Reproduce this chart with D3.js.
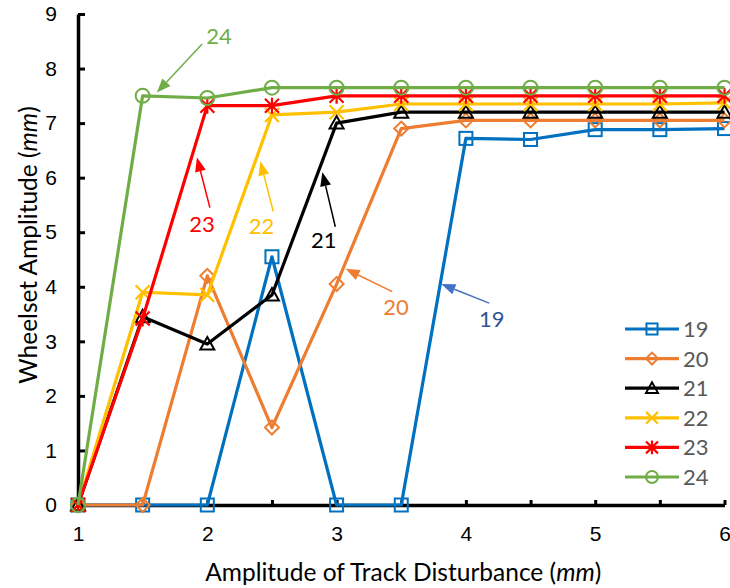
<!DOCTYPE html>
<html>
<head>
<meta charset="utf-8">
<script src="https://cdn.jsdelivr.net/npm/d3@7"></script>
<style>
  body { margin: 0; background: #fff; }
  svg { font-family: Lato, "Open Sans", sans-serif; }
  .axis path, .axis line { stroke: #000; }
  .axis text { fill: #000; font-size: 21px; }
</style>
</head>
<body>
<svg id="chart" width="730" height="588"></svg>
<script>
// DATA
const xValues = [1, 1.5, 2, 2.5, 3, 3.5, 4, 4.5, 5, 5.5, 6];
const s19 = [0, 0, 0, 4.55, 0, 0, 6.72, 6.70, 6.88, 6.88, 6.90];
const s20 = [0, 0, 4.2, 1.42, 4.05, 6.9, 7.05, 7.05, 7.05, 7.05, 7.05];
const s21 = [0, 3.45, 2.95, 3.85, 7.0, 7.2, 7.2, 7.2, 7.2, 7.2, 7.2];
const s22 = [0, 3.9, 3.85, 7.15, 7.2, 7.35, 7.35, 7.35, 7.35, 7.35, 7.37];
const s23 = [0, 3.42, 7.32, 7.32, 7.5, 7.5, 7.5, 7.5, 7.5, 7.5, 7.5];
const s24 = [0, 7.5, 7.46, 7.65, 7.65, 7.65, 7.65, 7.65, 7.65, 7.65, 7.65];
const seriesNames = ['19', '20', '21', '22', '23', '24'];
const xTicks = [1, 2, 3, 4, 5, 6];
const yTicks = [0, 1, 2, 3, 4, 5, 6, 7, 8, 9];

const series = [
    { name: '19', values: s19, color: '#0070C0', marker: 'square' },
    { name: '20', values: s20, color: '#ED7D31', marker: 'diamond' },
    { name: '21', values: s21, color: '#000000', marker: 'triangle' },
    { name: '22', values: s22, color: '#FFC000', marker: 'x' },
    { name: '23', values: s23, color: '#FF0000', marker: 'star' },
    { name: '24', values: s24, color: '#70AD47', marker: 'circle' }
];

// annotation labels: text pos, arrow tail and arrow head, all in data units
const notes = [
    { name: '24', color: '#70AD47', text: [2.09, 8.6], from: [1.96, 8.45], to: [1.61, 7.56] },
    { name: '23', color: '#FF0000', text: [1.96, 5.15], from: [2.02, 5.45], to: [1.92, 6.37] },
    { name: '22', color: '#FFC000', text: [2.42, 5.1], from: [2.51, 5.38], to: [2.41, 6.3] },
    { name: '21', color: '#000000', text: [2.9, 4.85], from: [2.99, 5.1], to: [2.89, 6.1] },
    { name: '20', color: '#ED7D31', text: [3.46, 3.63], from: [3.43, 3.91], to: [3.07, 4.33] },
    { name: '19', color: '#4472C4', textColor: '#2F5597', text: [4.2, 3.4], from: [4.18, 3.7], to: [3.81, 4.05] }
];

const svg = d3.select('#chart');
const margin = { top: 14, right: 5.5, bottom: 83, left: 78 };
const width = +svg.attr('width') - margin.left - margin.right;
const height = +svg.attr('height') - margin.top - margin.bottom;
const g = svg.append('g').attr('transform', `translate(${margin.left},${margin.top})`);

const x = d3.scaleLinear().domain([1, 6]).range([0, width]);
const y = d3.scaleLinear().domain([0, 9]).range([height, 0]);

// AXES
const yAxis = g.append('g').attr('class', 'axis')
    .call(d3.axisLeft(y).tickValues(yTicks).tickSizeInner(-7).tickSizeOuter(0).tickPadding(21));
yAxis.select('.domain').attr('stroke-width', 3.5);
yAxis.selectAll('.tick line').attr('stroke-width', 3);

const xMinor = g.append('g').attr('class', 'axis')
    .attr('transform', `translate(0,${height})`)
    .call(d3.axisBottom(x).tickValues(xValues).tickSizeInner(-5).tickSizeOuter(0).tickFormat(''));
xMinor.select('.domain').attr('stroke-width', 3.5);
xMinor.selectAll('.tick line').attr('stroke-width', 3);

const xAxis = g.append('g').attr('class', 'axis')
    .attr('transform', `translate(0,${height})`)
    .call(d3.axisBottom(x).tickValues(xTicks).tickFormat(d3.format('d')).tickSize(0).tickPadding(21));
xAxis.select('.domain').remove();

// AXIS TITLES
const xt = svg.append('text')
    .attr('x', margin.left + width / 2 + 2)
    .attr('y', 581)
    .attr('text-anchor', 'middle')
    .style('font-size', '24.5px');
xt.append('tspan').text('Amplitude of Track Disturbance (');
xt.append('tspan').style('font-style', 'italic').text('mm');
xt.append('tspan').text(')');

const yt = svg.append('text')
    .attr('transform', 'translate(37,245) rotate(-90)')
    .attr('text-anchor', 'middle')
    .style('font-size', '24.5px');
yt.append('tspan').text('Wheelset Amplitude  (');
yt.append('tspan').style('font-style', 'italic').text('mm');
yt.append('tspan').text(')');

// MARKERS
function drawMarker(sel, type, color, k) {
    const sw = 2;
    const s = k || 1;
    if (type === 'square') {
        sel.append('rect').attr('x', -6.5 * s).attr('y', -6.5 * s).attr('width', 13 * s).attr('height', 13 * s)
            .attr('fill', 'none').attr('stroke', color).attr('stroke-width', sw);
    } else if (type === 'diamond') {
        sel.append('path').attr('d', `M0,${-7 * s}L${7 * s},0L0,${7 * s}L${-7 * s},0Z`)
            .attr('fill', 'none').attr('stroke', color).attr('stroke-width', sw);
    } else if (type === 'triangle') {
        sel.append('path').attr('d', `M0,${-7 * s}L${7 * s},${5.5 * s}L${-7 * s},${5.5 * s}Z`)
            .attr('fill', 'none').attr('stroke', color).attr('stroke-width', sw);
    } else if (type === 'circle') {
        sel.append('circle').attr('r', 7 * s)
            .attr('fill', 'none').attr('stroke', color).attr('stroke-width', sw);
    } else if (type === 'x') {
        sel.append('path').attr('d', `M${-7 * s},${-7 * s}L${7 * s},${7 * s}M${-7 * s},${7 * s}L${7 * s},${-7 * s}`)
            .attr('fill', 'none').attr('stroke', color).attr('stroke-width', 2.2);
    } else if (type === 'star') {
        sel.append('path').attr('d', `M${-7 * s},${-7 * s}L${7 * s},${7 * s}M${-7 * s},${7 * s}L${7 * s},${-7 * s}M0,${-8 * s}L0,${8 * s}`)
            .attr('fill', 'none').attr('stroke', color).attr('stroke-width', 2.2);
    }
}

// LINES
const line = d3.line().x((d, i) => x(xValues[i])).y(d => y(d));

series.forEach(s => {
    const sg = g.append('g');
    sg.append('path')
        .datum(s.values)
        .attr('d', line)
        .attr('fill', 'none')
        .attr('stroke', s.color)
        .attr('stroke-width', 3.2)
        .attr('stroke-linejoin', 'round');
    sg.selectAll('g.pt')
        .data(s.values)
        .enter()
        .append('g')
        .attr('class', 'pt')
        .attr('transform', (d, i) => `translate(${x(xValues[i])},${y(d)})`)
        .each(function () { drawMarker(d3.select(this), s.marker, s.color); });
});

// ANNOTATIONS
notes.forEach(n => {
    const x1 = x(n.from[0]), y1 = y(n.from[1]);
    const x2 = x(n.to[0]), y2 = y(n.to[1]);
    const ang = Math.atan2(y2 - y1, x2 - x1);
    const L = 14, W = 5.5;
    const bx = x2 - L * Math.cos(ang), by = y2 - L * Math.sin(ang);
    g.append('line')
        .attr('x1', x1).attr('y1', y1).attr('x2', bx).attr('y2', by)
        .attr('stroke', n.color).attr('stroke-width', 1.5);
    g.append('path')
        .attr('d', `M${x2},${y2}L${bx - W * Math.sin(ang)},${by + W * Math.cos(ang)}L${bx + W * Math.sin(ang)},${by - W * Math.cos(ang)}Z`)
        .attr('fill', n.color);
    g.append('text')
        .attr('x', x(n.text[0]))
        .attr('y', y(n.text[1]))
        .attr('text-anchor', 'middle')
        .attr('dy', '0.35em')
        .style('font-size', '22px')
        .attr('fill', n.textColor || n.color)
        .text(n.name);
});

// LEGEND
const legend = svg.append('g').attr('transform', 'translate(625,329)');
series.forEach((s, i) => {
    const row = legend.append('g').attr('transform', `translate(0,${i * 29.6})`);
    row.append('line').attr('x1', 0).attr('x2', 54)
        .attr('stroke', s.color).attr('stroke-width', 3.2);
    const m = row.append('g').attr('transform', 'translate(27,0)');
    drawMarker(m, s.marker, s.color, 0.85);
    row.append('text')
        .attr('x', 58)
        .attr('dy', '0.36em')
        .style('font-size', '22px')
        .attr('fill', '#595959')
        .text(seriesNames[i]);
});
</script>
</body>
</html>
